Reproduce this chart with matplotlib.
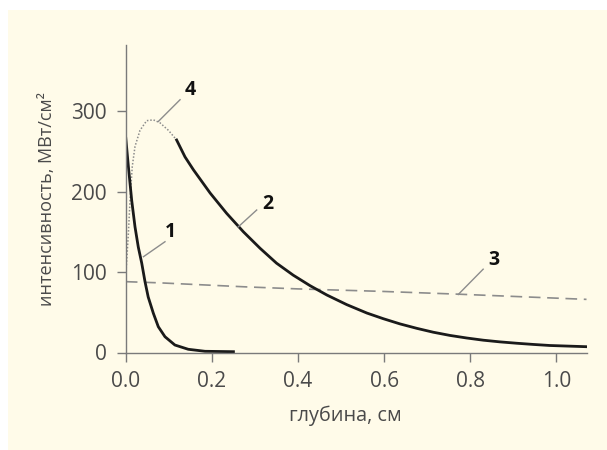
import matplotlib
matplotlib.use('Agg')
import matplotlib.pyplot as plt
from matplotlib.patches import Rectangle

# curve 1 (solid, short penetration)
x1 = [0.0, 0.006, 0.0137, 0.0214, 0.029, 0.037, 0.0446, 0.052, 0.064, 0.0755,
      0.091, 0.114, 0.145, 0.184, 0.25]
y1 = [266, 231, 189, 156, 131, 111, 88, 69, 48.7, 32, 19.6, 9.3, 4.0, 1.5, 1.0]

# curve 2 (solid, long penetration)
x2 = [0.118, 0.1375, 0.157, 0.196, 0.234, 0.273, 0.312, 0.350, 0.389, 0.428,
      0.467, 0.513, 0.56, 0.598, 0.637, 0.676, 0.714, 0.753, 0.792, 0.830,
      0.869, 0.908, 0.947, 0.985, 1.07]
y2 = [264, 243, 227, 198, 173, 150, 129.4, 111, 96, 83,
      71.4, 59.5, 49, 42, 35.5, 30, 25.2, 21.2, 18, 15.3,
      13.2, 11.5, 10, 8.7, 7.2]

# curve 3 (dashed)
x3 = [0.0, 0.08, 0.28, 0.4, 0.59, 0.77, 1.07]
y3 = [88, 86.5, 81.5, 79, 76, 72.5, 66]

# curve 4 (dotted, near-surface rise)
x4 = [0.0, 0.006, 0.0098, 0.015, 0.0214, 0.033, 0.0485, 0.064, 0.079, 0.099, 0.118]
y4 = [96, 148, 189, 231, 256, 276, 288, 289, 285.5, 276, 264]

xticks = [0.0, 0.2, 0.4, 0.6, 0.8, 1.0]
yticks = [0, 100, 200, 300]

# curve labels: text, text position, leader line start, leader line end
labels = ['1', '2', '3', '4']
label_pos = [(0.103, 150), (0.331, 185), (0.854, 115), (0.149, 326)]
leader_from = [(0.091, 137.6), (0.304, 177), (0.830, 103.5), (0.126, 314)]
leader_to = [(0.041, 119), (0.261, 156), (0.772, 72.0), (0.0755, 287)]

cream = '#fffbe9'
axis_col = '#7a7a7a'
text_col = '#4a4a4a'

plt.rcParams['font.family'] = ['Open Sans', 'DejaVu Sans']

fig = plt.figure(figsize=(6.07, 4.5), dpi=100)
fig.patch.set_facecolor('white')
fig.patches.append(Rectangle((8 / 607, 0), 1, 1 - 10 / 450, transform=fig.transFigure,
                             facecolor=cream, edgecolor='none', zorder=-10))

ax = fig.add_axes([125.8 / 607, 1 - 352.5 / 450, (586.5 - 125.8) / 607, (352.5 - 45) / 450])
ax.set_facecolor('none')

ax.plot(x4, y4, color='#8c8c8c', lw=1.1, linestyle=(0, (1, 1.2)))
ax.plot(x3, y3, color='#8c8c8c', lw=1.2, linestyle=(0, (7, 4)))
ax.plot(x1, y1, color='#1a1a1a', lw=2.0)
ax.plot(x2, y2, color='#1a1a1a', lw=2.0)

for t, p, a, b in zip(labels, label_pos, leader_from, leader_to):
    ax.text(p[0], p[1], t, fontsize=14, fontweight='bold', color='#111111',
            ha='center', va='center')
    ax.plot([a[0], b[0]], [a[1], b[1]], color='#8c8c8c', lw=1.0)

ax.set_xlim(0, 1.07)
ax.set_ylim(0, 382)
ax.set_xticks(xticks)
ax.set_xticklabels(['%.1f' % v for v in xticks])
ax.set_yticks(yticks)

for s in ['top', 'right']:
    ax.spines[s].set_visible(False)
for s in ['left', 'bottom']:
    ax.spines[s].set_color(axis_col)
    ax.spines[s].set_linewidth(1.0)

ax.tick_params(direction='out', length=6.5, width=1.0, color=axis_col,
               labelsize=15, labelcolor=text_col, pad=7)

ax.set_xlabel('глубина, см', fontsize=14.3, color=text_col)
ax.set_ylabel('интенсивность, МВт/см²', fontsize=13, color=text_col)
ax.xaxis.set_label_coords(0.477, -0.172)
ax.yaxis.set_label_coords(-0.151, 0.5)

fig.savefig('out.png', dpi=100, facecolor=fig.get_facecolor())
